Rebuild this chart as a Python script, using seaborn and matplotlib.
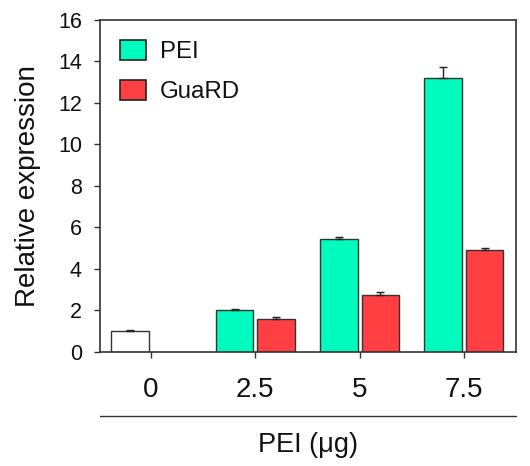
import matplotlib
matplotlib.use("Agg")
import matplotlib.pyplot as plt
import seaborn as sns
import pandas as pd
import numpy as np
from matplotlib.patches import Patch

# ---- data ----
doses = ["0", "2.5", "5", "7.5"]
pei_values = [1.0, 2.0, 5.45, 13.2]
pei_errors = [0.05, 0.05, 0.1, 0.5]
guard_doses = ["2.5", "5", "7.5"]
guard_values = [1.6, 2.75, 4.9]
guard_errors = [0.1, 0.15, 0.12]
series = ["PEI", "GuaRD"]
colors = {"PEI": "#00FBBF", "GuaRD": "#FF3F42"}
yticks = [0, 2, 4, 6, 8, 10, 12, 14, 16]

df = pd.DataFrame({
    "dose": doses + guard_doses,
    "value": pei_values + guard_values,
    "series": ["PEI"] * len(doses) + ["GuaRD"] * len(guard_doses),
})

sns.set_theme(style="ticks")
plt.rcParams["font.family"] = ["Liberation Sans", "DejaVu Sans"]
plt.rcParams["text.color"] = "#111111"
plt.rcParams["axes.labelcolor"] = "#111111"
plt.rcParams["xtick.labelcolor"] = "#111111"
plt.rcParams["ytick.labelcolor"] = "#111111"

fig = plt.figure(figsize=(5.30, 4.66), dpi=100)
ax = fig.add_axes([0.1887, 0.2446, 0.9736 - 0.1887, 0.958 - 0.2446])

sns.barplot(data=df, x="dose", y="value", hue="series", order=doses,
            hue_order=series, palette=colors, errorbar=None, gap=0.1,
            edgecolor="#333333", linewidth=1.0, saturation=1, ax=ax,
            legend=False)

# error bars (upper only) placed at the bar centres
err_lists = {"PEI": pei_errors, "GuaRD": guard_errors}
for cont, name in zip(ax.containers, series):
    errs = err_lists[name]
    xs = [p.get_x() + p.get_width() / 2 for p in cont.patches]
    hs = [p.get_height() for p in cont.patches]
    ax.errorbar(xs, hs, yerr=[np.zeros(len(errs)), errs], fmt="none",
                ecolor="#222222", elinewidth=1.0, capsize=3.2, capthick=1.0,
                zorder=1)

# control bar (0 µg) is white
ax.containers[0].patches[0].set_facecolor("white")

ax.set_ylim(0, 16)
ax.set_yticks(yticks)
ax.set_xlim(-0.49, 3.5)
ax.set_ylabel("Relative expression", fontsize=20, labelpad=12)
ax.set_xlabel("PEI (\u03bcg)", fontsize=19.5, labelpad=21)
ax.tick_params(axis="y", labelsize=15.5, length=4, width=1, pad=9, color="#333333")
ax.tick_params(axis="x", labelsize=20, length=4, width=1, pad=14, color="#333333")
for s in ax.spines.values():
    s.set_visible(True)
    s.set_color("#333333")
    s.set_linewidth(1.2)

# separator line beneath tick labels
ax.plot([0, 1], [-0.192, -0.192], transform=ax.transAxes, clip_on=False,
        color="#333333", lw=1.0)

handles = [Patch(facecolor=colors[s], edgecolor="#222222", linewidth=1.2, label=s)
           for s in series]
ax.legend(handles=handles, loc="upper left", frameon=False, fontsize=17.3,
          handlelength=1.08, handleheight=0.9, labelspacing=0.68,
          handletextpad=0.55, bbox_to_anchor=(0.0, 1.0), borderaxespad=0.45)

fig.savefig("out.png", dpi=100)
